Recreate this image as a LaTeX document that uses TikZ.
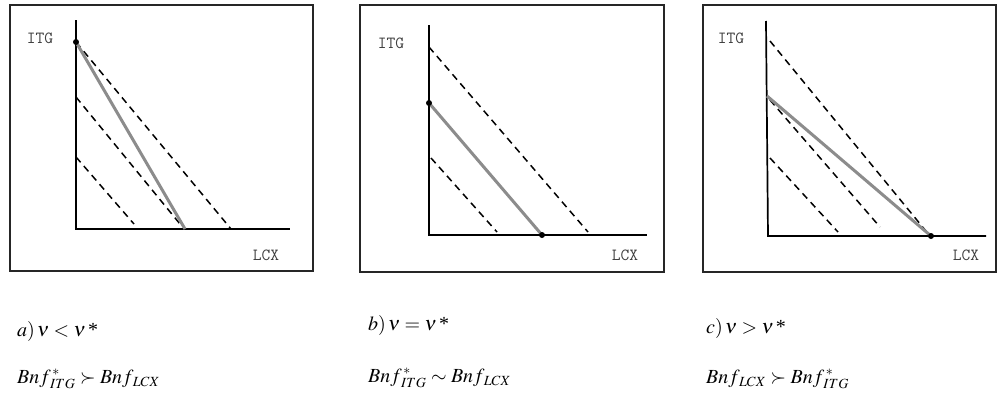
\documentclass[tikz,border=0pt]{standalone}
\usepackage{mathptmx}
\usepackage{fontspec}
\setmainfont{Liberation Serif}
\DeclareMathSizes{20}{20}{14}{10}
\begin{document}
\begin{tikzpicture}[x=1pt,y=-1pt,
  framebox/.style={draw=black!85,line width=1.6pt},
  axisline/.style={draw=black,line width=1.7pt},
  budget/.style={draw=black!45,line width=3pt},
  indiff/.style={draw=black,line width=1.5pt,dash pattern=on 7pt off 5pt},
  axlabel/.style={font=\ttfamily\fontsize{17}{17}\selectfont,text=black!75,inner sep=0pt},
  caption/.style={anchor=base west,inner sep=0pt,font=\fontsize{20}{24}\selectfont},
  dot/.style={circle,fill=black,inner sep=0pt,minimum size=6pt}]
\useasboundingbox (0,0) rectangle (997,394);
\fill[white] (0,0) rectangle (997,394);

% ---------- panel a ----------
\draw[framebox] (10,5) rectangle (313,271);
\coordinate (aT) at (76,20);
\coordinate (aO) at (76,229);
\coordinate (aR) at (290,229);
\draw[axisline] (aT) -- (aO) -- (aR);
\node[axlabel] (aITG) at (40,38) {ITG};
\node[axlabel] (aLCX) at (266,255) {LCX};
\coordinate (aD1s) at (76,42);  \coordinate (aD1e) at (231,229);
\coordinate (aD2s) at (76,97);  \coordinate (aD2e) at (180,224);
\coordinate (aD3s) at (76,157); \coordinate (aD3e) at (134,224);
\draw[indiff] (aD1s) -- (aD1e);
\draw[indiff] (aD2s) -- (aD2e);
\draw[indiff] (aD3s) -- (aD3e);
\coordinate (aBs) at (76,42); \coordinate (aBe) at (185,229);
\draw[budget] (aBs) -- (aBe);
\node[dot] (aP) at (aBs) {};

% ---------- panel b ----------
\draw[framebox] (360,5) rectangle (664,272);
\coordinate (bT) at (429,25);
\coordinate (bO) at (429,235);
\coordinate (bR) at (647,235);
\draw[axisline] (bT) -- (bO) -- (bR);
\node[axlabel] (bITG) at (391,43) {ITG};
\node[axlabel] (bLCX) at (625,255) {LCX};
\coordinate (bD1s) at (429,47);  \coordinate (bD1e) at (588,232);
\coordinate (bD2s) at (431,158); \coordinate (bD2e) at (497,232);
\draw[indiff] (bD1s) -- (bD1e);
\draw[indiff] (bD2s) -- (bD2e);
\coordinate (bBs) at (429,103); \coordinate (bBe) at (542,235);
\draw[budget] (bBs) -- (bBe);
\node[dot] (bP) at (bBs) {};
\node[dot] (bQ) at (bBe) {};

% ---------- panel c ----------
\draw[framebox] (703,5) rectangle (996,272);
\coordinate (cT) at (766,21);
\coordinate (cO) at (768,236);
\coordinate (cR) at (986,236);
\draw[axisline] (cT) -- (cO) -- (cR);
\node[axlabel] (cITG) at (731,38) {ITG};
\node[axlabel] (cLCX) at (966,255) {LCX};
\coordinate (cD1s) at (770,41);  \coordinate (cD1e) at (930,236);
\coordinate (cD2s) at (770,100); \coordinate (cD2e) at (880,227);
\coordinate (cD3s) at (770,158); \coordinate (cD3e) at (838,232);
\draw[indiff] (cD1s) -- (cD1e);
\draw[indiff] (cD2s) -- (cD2e);
\draw[indiff] (cD3s) -- (cD3e);
\coordinate (cBs) at (767,96); \coordinate (cBe) at (931,236);
\draw[budget] (cBs) -- (cBe);
\node[dot] (cQ) at (cBe) {};

% ---------- captions ----------
\node[caption] (a1) at (17,336) {$a)\,\nu<\nu\,\mbox{*}$};
\node[caption] (a2) at (17,383) {$Bnf^{\,*}_{\,ITG}\succ Bnf_{\,LCX}$};
\node[caption] (b1) at (368,330) {$b)\,\nu=\nu\,\mbox{*}$};
\node[caption] (b2) at (368,382) {$Bnf^{\,*}_{\,ITG}\sim Bnf_{\,LCX}$};
\node[caption] (c1) at (706,333) {$c)\,\nu>\nu\,\mbox{*}$};
\node[caption] (c2) at (706,383) {$Bnf_{\,LCX}\succ Bnf^{\,*}_{\,ITG}$};
\end{tikzpicture}
\end{document}
